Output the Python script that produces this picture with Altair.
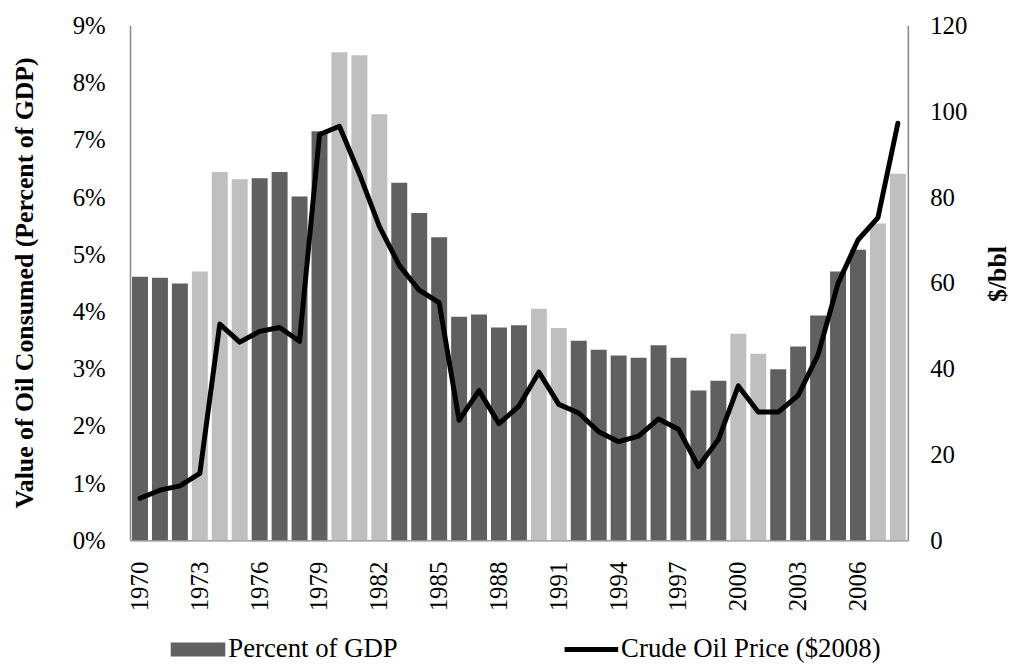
import altair as alt
import pandas as pd

years = list(range(1970, 2009))
pct_gdp = [4.61, 4.59, 4.49, 4.70, 6.44, 6.31, 6.33, 6.44, 6.01, 7.15,
           8.53, 8.48, 7.45, 6.25, 5.72, 5.30, 3.91, 3.95, 3.72, 3.76,
           4.05, 3.71, 3.49, 3.33, 3.23, 3.19, 3.41, 3.19, 2.62, 2.79,
           3.61, 3.26, 2.99, 3.39, 3.93, 4.70, 5.08, 5.54, 6.41]
oil_price = [9.8, 11.7, 12.7, 15.6, 50.4, 46.2, 48.7, 49.6, 46.4, 94.6,
             96.5, 85.4, 73.2, 64.1, 58.3, 55.4, 28.0, 34.9, 27.2, 31.3,
             39.2, 31.7, 29.7, 25.3, 23.0, 24.3, 28.3, 25.9, 17.2, 23.5,
             36.0, 29.9, 29.9, 33.8, 43.3, 59.9, 70.0, 75.2, 97.2]
recession_years = [1973, 1974, 1975, 1980, 1981, 1982, 1990, 1991, 2000, 2001, 2007, 2008]
tick_years = [str(y) for y in range(1970, 2007, 3)]
pct_ticks = list(range(0, 10))
price_ticks = list(range(0, 121, 20))

df = pd.DataFrame({
    "year": [str(y) for y in years],
    "pct": pct_gdp,
    "price": oil_price,
    "phase": ["light" if y in recession_years else "dark" for y in years],
})

FONT = "Liberation Serif"
GRAY = "#868686"

x_enc = alt.X(
    "year:O",
    scale=alt.Scale(paddingInner=0.2, paddingOuter=0.1),
    axis=alt.Axis(values=tick_years, labelAngle=-90, labelPadding=21, tickSize=0,
                  title=None, domainColor=GRAY, domainWidth=1.5,
                  labelFont=FONT, labelFontSize=25, labelColor="black"),
)

bars = alt.Chart(df).mark_bar().encode(
    x=x_enc,
    y=alt.Y("pct:Q", scale=alt.Scale(domain=[0, 9], nice=False),
            axis=alt.Axis(values=pct_ticks, labelExpr="datum.value + '%'",
                          title="Value of Oil Consumed (Percent of GDP)",
                          titleFont=FONT, titleFontSize=26, titleFontWeight="bold",
                          titleColor="black", titleAngle=270, titleX=-106, titleY=259,
                          titleAlign="center", titleBaseline="middle",
                          labelFont=FONT, labelFontSize=25, labelColor="black",
                          labelPadding=25, tickSize=0, domainColor=GRAY, domainWidth=1.5,
                          grid=False)),
    color=alt.Color("phase:N", scale=alt.Scale(domain=["dark", "light"],
                                               range=["#606060", "#bfbfbf"]), legend=None),
)

line = alt.Chart(df).mark_line(color="black", strokeWidth=5, strokeJoin="round",
                               strokeCap="round").encode(
    x=alt.X("year:O"),
    y=alt.Y("price:Q", scale=alt.Scale(domain=[0, 120], nice=False),
            axis=alt.Axis(orient="right", values=price_ticks, title="$/bbl",
                          titleFont=FONT, titleFontSize=26, titleFontWeight="bold",
                          titleColor="black", titleAngle=270, titleX=90, titleY=250,
                          titleAlign="center", titleBaseline="middle",
                          labelFont=FONT, labelFontSize=25, labelColor="black",
                          labelPadding=22, tickSize=0, domainColor=GRAY, domainWidth=1.5,
                          grid=False)),
)

one = pd.DataFrame({"k": [0]})
leg_box = alt.Chart(one).mark_rect(color="#606060").encode(
    x=alt.value(41), x2=alt.value(96), y=alt.value(622), y2=alt.value(636))
leg_box_txt = alt.Chart(one).mark_text(align="left", baseline="alphabetic", font=FONT,
                                       fontSize=27, color="black").encode(
    x=alt.value(99), y=alt.value(637), text=alt.value("Percent of GDP"))
leg_line = alt.Chart(one).mark_rule(color="black", strokeWidth=5).encode(
    x=alt.value(438), x2=alt.value(492), y=alt.value(629))
leg_line_txt = alt.Chart(one).mark_text(align="left", baseline="alphabetic", font=FONT,
                                        fontSize=27, color="black").encode(
    x=alt.value(495), y=alt.value(637), text=alt.value("Crude Oil Price ($2008)"))

chart = alt.layer(bars, line, leg_box, leg_box_txt, leg_line, leg_line_txt).resolve_scale(
    y="independent"
).properties(
    width=784, height=519,
    padding={"left": 123, "top": 15, "right": 107, "bottom": 122},
    autosize=alt.AutoSizeParams(type="none"),
    background="white",
).configure_view(stroke=None).configure_axis(grid=False)

chart.save("out.html", embed_options={"renderer": "svg", "actions": False})
